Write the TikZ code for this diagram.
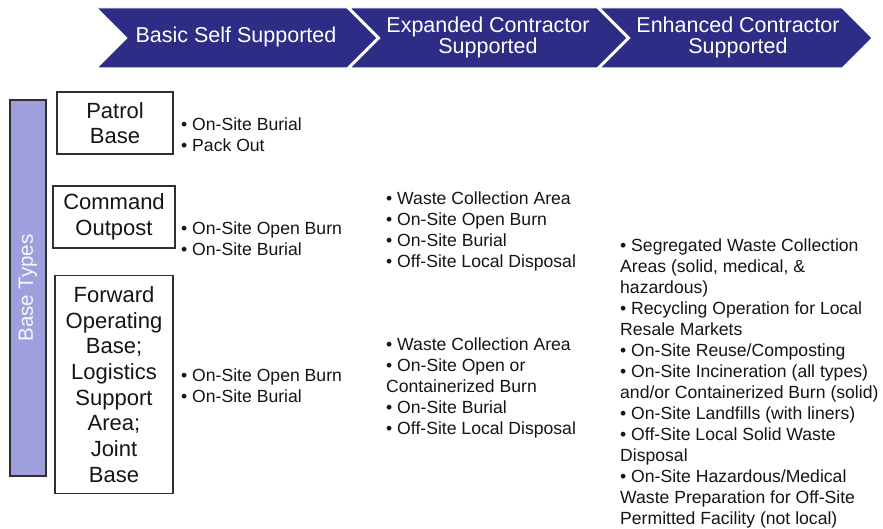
\documentclass[tikz,border=0pt]{standalone}
\usepackage{fontspec}
\setmainfont{Liberation Sans}
\definecolor{navy}{HTML}{2D2D86}
\definecolor{lav}{HTML}{9F9FDD}
\definecolor{boxgray}{HTML}{303030}
\definecolor{txt}{HTML}{151515}
\tikzset{
  chev/.style={fill=navy, draw=white, line width=1pt},
  chevtext/.style={text=white, font=\fontsize{21.5}{21}\selectfont, align=center, inner sep=0pt},
  basebox/.style={draw=boxgray, line width=1.6pt, fill=white, inner sep=0pt,
     font=\fontsize{22}{25.7}\selectfont, align=center, text=txt},
  bullets/.style={font=\fontsize{17.6}{21}\selectfont, align=left, anchor=west, inner sep=0pt, text=txt},
}
\begin{document}
\begin{tikzpicture}[x=1pt,y=-1pt]
\useasboundingbox (0,0) rectangle (883,529);
\fill[white] (0,0) rectangle (883,529);
% chevrons
\draw[chev] (97,8) -- (347,8) -- (377,38) -- (347,68) -- (97,68) -- (127,38) -- cycle;
\draw[chev] (350,8) -- (597,8) -- (627,38) -- (597,68) -- (350,68) -- (380,38) -- cycle;
\draw[chev] (600,8) -- (842,8) -- (872,38) -- (842,68) -- (600,68) -- (630,38) -- cycle;
\node[chevtext] (h1) at (236,37) {Basic Self Supported};
\node[chevtext] (h2) at (488,37) {Expanded Contractor\\Supported};
\node[chevtext] (h3) at (738,37) {Enhanced Contractor\\Supported};
% left bar
\node[draw=boxgray, line width=1.6pt, fill=lav, minimum width=36pt, minimum height=376pt, inner sep=0pt] (bar) at (28,288) {};
\node[rotate=90, text=white!92!lav, font=\fontsize{20.5}{22}\selectfont, inner sep=0pt] (bartext) at (bar.center) {Base Types};
% base boxes
\node[basebox, minimum width=116pt, minimum height=62pt] (patrol) at (115,123) {Patrol\\Base};
\node[basebox, minimum width=122pt, minimum height=62pt] (command) at (114,217) {Command\\Outpost};
\node[basebox, minimum width=118pt, minimum height=218pt] (fob) at (114,384.5) {Forward\\Operating\\Base;\\Logistics\\Support\\Area;\\Joint\\Base};
% column 1
\node[bullets] (c1a) at (181,135) {• On-Site Burial\\• Pack Out};
\node[bullets] (c1b) at (181,239) {• On-Site Open Burn\\• On-Site Burial};
\node[bullets] (c1c) at (181,386) {• On-Site Open Burn\\• On-Site Burial};
% column 2
\node[bullets] (c2a) at (386,231.5) {• Waste Collection Area\\• On-Site Open Burn\\• On-Site Burial\\• Off-Site Local Disposal};
\node[bullets] (c2b) at (386,388) {• Waste Collection Area\\• On-Site Open or\\Containerized Burn\\• On-Site Burial\\• Off-Site Local Disposal};
% column 3
\node[bullets] (c3) at (620,383) {• Segregated Waste Collection\\Areas (solid, medical, \&\\hazardous)\\• Recycling Operation for Local\\Resale Markets\\• On-Site Reuse/Composting\\• On-Site Incineration (all types)\\and/or Containerized Burn (solid)\\• On-Site Landfills (with liners)\\• Off-Site Local Solid Waste\\Disposal\\• On-Site Hazardous/Medical\\Waste Preparation for Off-Site\\Permitted Facility (not local)};
\end{tikzpicture}
\end{document}
